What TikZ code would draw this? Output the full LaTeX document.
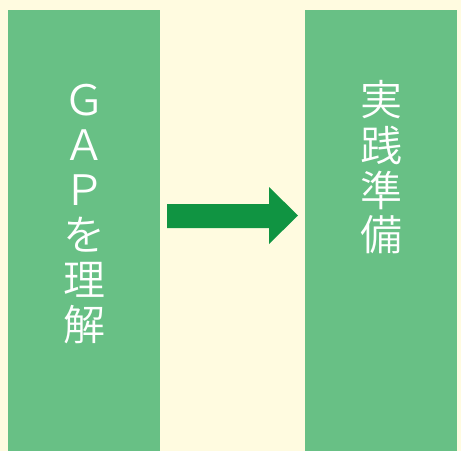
\documentclass[tikz,border=0pt]{standalone}
\usepackage{fontspec}
\newfontfamily\jpfont{Noto Sans CJK JP DemiLight}
\definecolor{cream}{RGB}{255,251,224}
\definecolor{panelgreen}{RGB}{104,192,133}
\definecolor{arrowgreen}{RGB}{16,148,66}
\tikzset{
  panel/.style={fill=panelgreen, draw=none, minimum width=152pt, minimum height=441pt, inner sep=0pt},
  chr/.style={text=white, inner sep=0pt, font=\jpfont\fontsize{42}{42}\selectfont}
}

\begin{document}
\begin{tikzpicture}[x=1pt, y=-1pt]
\fill[cream] (0,0) rectangle (461,451); %background
\node[panel] (gap) at (84,230.5) {}; %left panel
\node[panel] (prep) at (381,230.5) {}; %right panel

\fill[arrowgreen] (167,204) -- (269,204) -- (269,187) -- (298,215.5) -- (269,244) -- (269,228) -- (167,228) -- cycle; %arrow

\foreach \c [count=\i] in {Ｇ,Ａ,Ｐ,を,理,解}
  \node[chr] (gap\i) at (84,{100+45*(\i-1)}) {\c}; %left text
\foreach \c [count=\i] in {実,践,準,備}
  \node[chr] (prep\i) at (381,{100+45*(\i-1)}) {\c}; %right text
\end{tikzpicture}
\end{document}
